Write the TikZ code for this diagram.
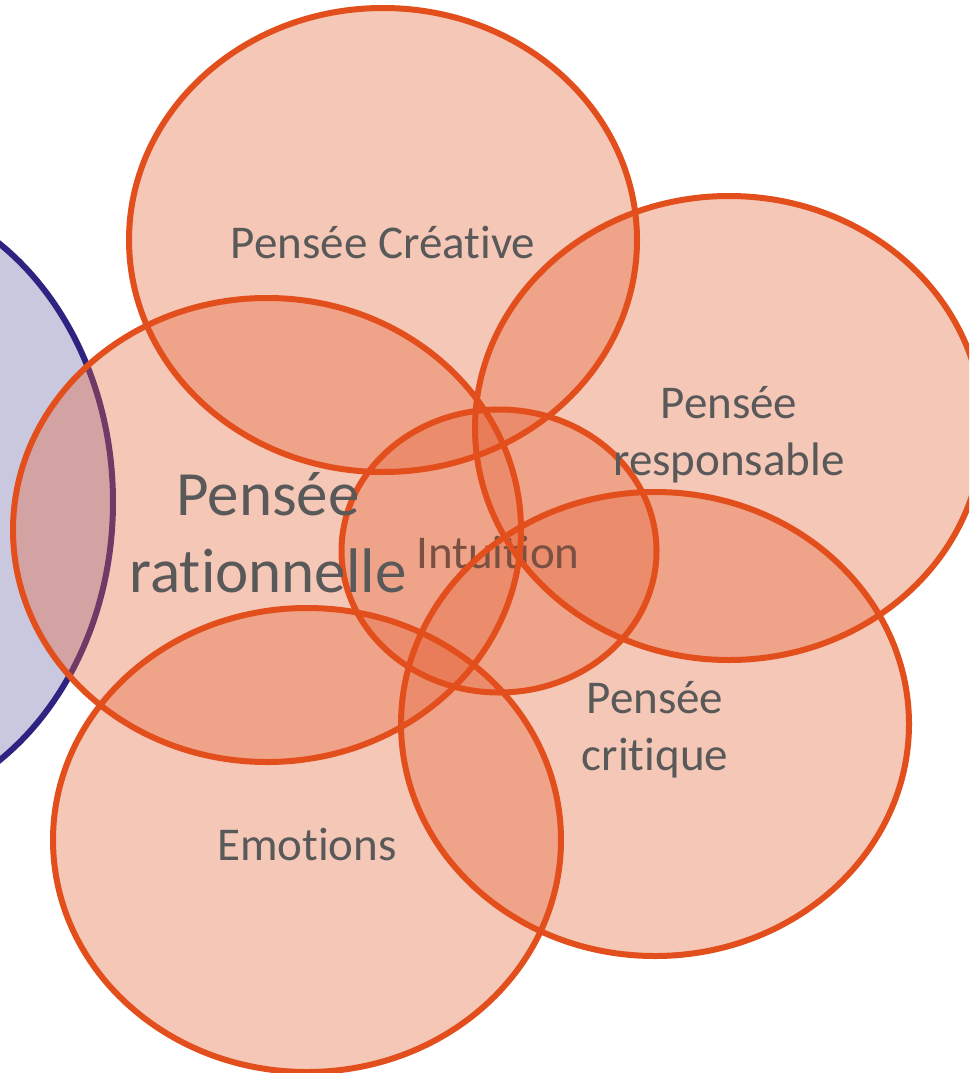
\documentclass[tikz,border=0pt]{standalone}
\usepackage{fontspec}
\setmainfont{Carlito}[Ligatures=NoCommon]
\usetikzlibrary{shapes.geometric}
\definecolor{salfill}{RGB}{230,100,58}
\definecolor{salline}{RGB}{227,79,28}
\definecolor{bluefill}{RGB}{201,200,223}
\definecolor{blueline}{RGB}{46,35,128}
\definecolor{txt}{RGB}{89,89,89}
\definecolor{txtint}{RGB}{122,80,66}
\newcommand{\nti}{t\kern0pt i}
\tikzset{
  bigell/.style={ellipse, minimum width=508pt, minimum height=464pt, inner sep=0pt, outer sep=0pt},
  smallell/.style={ellipse, minimum width=315pt, minimum height=283pt, inner sep=0pt, outer sep=0pt},
  sfill/.style={fill=salfill, fill opacity=0.36},
  sline/.style={draw=salline, line width=6pt},
  lbl/.style={text=txt, inner sep=0pt, anchor=base, font=\fontsize{47}{57}\selectfont},
  lblbig/.style={text=txt, inner sep=0pt, anchor=base, font=\fontsize{63}{76}\selectfont},
}
\begin{document}
\begin{tikzpicture}[x=1pt,y=-1pt]
\useasboundingbox (0,0) rectangle (969,1073);
\clip (0,0) rectangle (969,1073);
\fill[white] (0,0) rectangle (969,1073);
% blue ellipse (behind)
\node[ellipse, minimum width=508pt, minimum height=620pt, inner sep=0pt, fill=bluefill, draw=blueline, line width=6pt] (blue) at (-141,502) {};
% fills
\node[bigell, sfill] (cre) at (383,240) {};
\node[bigell, sfill] (res) at (729,428) {};
\node[bigell, sfill] (rat) at (267,530) {};
\node[bigell, sfill] (cri) at (655,724) {};
\node[bigell, sfill] (emo) at (307,840) {};
\node[smallell, sfill] (int) at (499,551) {};
\node[lbl, text=txtint] (tint) at (498,568) {Intui\nti on};
% strokes
\node[bigell, sline] (cre-o) at (cre) {};
\node[bigell, sline] (res-o) at (res) {};
\node[bigell, sline] (rat-o) at (rat) {};
\node[bigell, sline] (cri-o) at (cri) {};
\node[bigell, sline] (emo-o) at (emo) {};
\node[smallell, sline] (int-o) at (int) {};
% labels
\node[lbl] (tcre) at (383,258) {Pensée Créa\nti ve};
\node[lbl] (tres1) at (729,418) {Pensée};
\node[lbl] (tres2) at (729,475) {responsable};
\node[lblbig] (trat1) at (268,515) {Pensée};
\node[lblbig] (trat2) at (268,592) {rationnelle};
\node[lbl] (tcri1) at (655,713) {Pensée};
\node[lbl] (tcri2) at (655,770) {cri\nti que};
\node[lbl] (temo) at (307,860) {Emo\nti ons};
\end{tikzpicture}
\end{document}
